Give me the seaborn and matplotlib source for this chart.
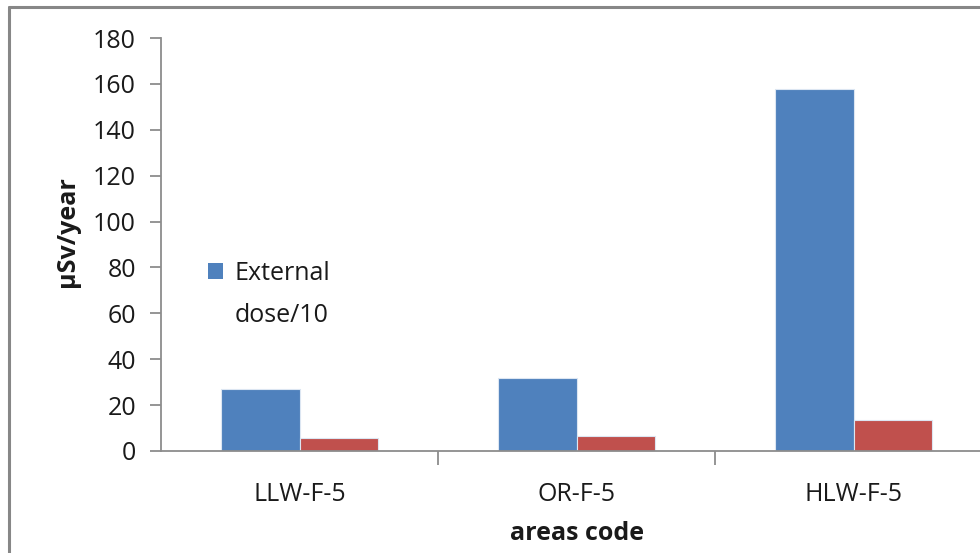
import matplotlib
matplotlib.use("Agg")
import matplotlib.pyplot as plt
import seaborn as sns
import pandas as pd
from matplotlib.patches import Patch
from matplotlib.lines import Line2D

categories = ["LLW-F-5", "OR-F-5", "HLW-F-5"]
external_dose_10 = [27.0, 31.6, 157.6]
internal_dose = [5.8, 6.4, 13.7]
series_names = ["External dose/10", "Internal dose"]
y_ticks = [0, 20, 40, 60, 80, 100, 120, 140, 160, 180]

df = pd.DataFrame({
    "area": categories * 2,
    "value": external_dose_10 + internal_dose,
    "series": [series_names[0]] * 3 + [series_names[1]] * 3,
})

sns.set_style("white")
plt.rcParams["font.family"] = ["Open Sans", "DejaVu Sans"]

W, H = 980, 553
fig = plt.figure(figsize=(W / 100, H / 100), dpi=100)
ax = fig.add_axes([161 / W, 1 - 451 / H, (992 - 161) / W, (451 - 38) / H])

colors = ["#4F81BD", "#C0504D"]
sns.barplot(data=df, x="area", y="value", hue="series", order=categories,
            hue_order=series_names, palette=colors, width=0.57, gap=0,
            saturation=1, ax=ax, legend=False, linewidth=0.8,
            edgecolor="#dce6f2")

ax.set_xlim(-0.5, 2.5)
ax.set_ylim(0, 180)
ax.set_yticks(y_ticks)
ax.set_yticklabels([str(t) for t in y_ticks])

spine_c = "#8c8c8c"
for s in ["top", "right"]:
    ax.spines[s].set_visible(False)
ax.spines["left"].set_color(spine_c)
ax.spines["bottom"].set_color(spine_c)
ax.spines["left"].set_linewidth(1.3)
ax.spines["bottom"].set_linewidth(1.3)

ax.tick_params(axis="y", which="major", direction="out", length=8, width=1.3,
               color=spine_c, labelsize=18, labelcolor="#1a1a1a", pad=10, left=True)
ax.set_xticks([0, 1, 2])
ax.set_xticklabels(categories)
ax.tick_params(axis="x", which="major", length=0, labelsize=18,
               labelcolor="#1a1a1a", pad=22)
ax.set_xticks([0.5, 1.5], minor=True)
ax.tick_params(axis="x", which="minor", direction="out", length=10, width=1.3,
               color=spine_c, bottom=True)

ax.set_xlabel("areas code", fontsize=18, fontweight="bold", color="#1a1a1a")
ax.set_ylabel("µSv/year", fontsize=18, fontweight="bold", color="#1a1a1a")
ax.xaxis.set_label_coords((577 - 161) / (992 - 161), -(521 - 451) / (451 - 38))
ax.yaxis.set_label_coords((80 - 161) / (992 - 161), (451 - 232) / (451 - 38))

leg = fig.legend(handles=[Patch(facecolor=colors[0], edgecolor="none"),
                          Patch(facecolor="none", edgecolor="none")],
                 labels=["External", "dose/10"], frameon=False, fontsize=18,
                 loc="upper left", bbox_to_anchor=(208 / W, 1 - 261 / H),
                 handlelength=0.6, handleheight=0.6, handletextpad=0.45,
                 labelspacing=0.68, borderaxespad=0, borderpad=0)
for t in leg.get_texts():
    t.set_color("#1a1a1a")

# outer chart-area frame (right and bottom cropped in reference)
fig.add_artist(Line2D([9 / W, 1.0], [1 - 7 / H, 1 - 7 / H], color="#878787", lw=2.2))
fig.add_artist(Line2D([9 / W, 9 / W], [0.0, 1 - 7 / H], color="#878787", lw=2.2))

fig.savefig("out.png", dpi=100)
